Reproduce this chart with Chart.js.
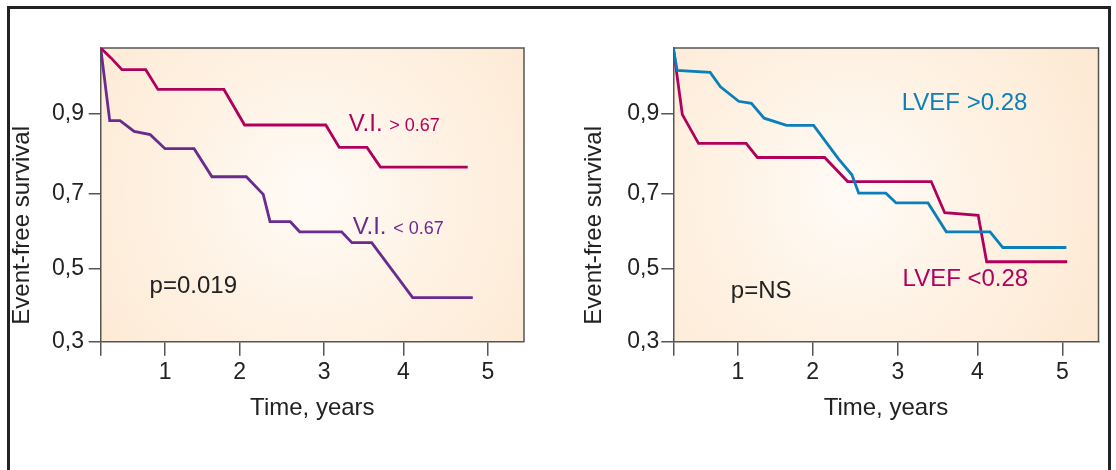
<!DOCTYPE html>
<html>
<head>
<meta charset="utf-8">
<script src="https://cdn.jsdelivr.net/npm/chart.js@4/dist/chart.umd.min.js"></script>
<style>
    html, body { margin: 0; padding: 0; background: #fff; overflow: hidden; }
    #marco { position: absolute; left: 6.5px; top: 5.5px; width: 1104.5px; height: 520px; border: 3px solid #222; box-sizing: border-box; }
    canvas { position: absolute; top: 0; }
    #graficaVI { left: 0; }
    #graficaLVEF { left: 558px; }
</style>
</head>
<body>
<div id="marco"></div>
<canvas id="graficaVI" width="558" height="470"></canvas>
<canvas id="graficaLVEF" width="558" height="470"></canvas>
<script>
// tick values
const xTicks = [0, 1, 2, 3, 4, 5];
const yTicks = [0.3, 0.5, 0.7, 0.9];

// left panel: V.I.
const viAltoTiempo = [0, 0.16, 0.33, 0.70, 0.89, 1.79, 2.06, 3.02, 3.19, 3.54, 3.71, 4.76];
const viAltoSuperv = [1.0, 0.985, 0.967, 0.967, 0.937, 0.937, 0.872, 0.872, 0.816, 0.816, 0.767, 0.767];
const viBajoTiempo = [0, 0.14, 0.30, 0.52, 0.77, 1.00, 1.39, 1.63, 2.08, 2.28, 2.36, 2.60, 2.71, 3.22, 3.35, 3.60, 4.11, 4.82];
const viBajoSuperv = [1.0, 0.883, 0.883, 0.856, 0.848, 0.813, 0.813, 0.743, 0.743, 0.699, 0.626, 0.626, 0.599, 0.599, 0.570, 0.570, 0.421, 0.421];

// right panel: LVEF
const lvefAltoTiempo = [0, 0.06, 0.57, 0.73, 1.01, 1.18, 1.35, 1.65, 2.01, 2.30, 2.46, 2.54, 2.86, 2.98, 3.38, 3.61, 4.15, 4.30, 5.05];
const lvefAltoSuperv = [1.0, 0.966, 0.963, 0.941, 0.919, 0.916, 0.889, 0.871, 0.871, 0.788, 0.748, 0.702, 0.702, 0.676, 0.676, 0.599, 0.599, 0.557, 0.557];
const lvefBajoTiempo = [0, 0.14, 0.39, 1.11, 1.26, 2.14, 2.41, 3.42, 3.59, 4.01, 4.11, 5.06];
const lvefBajoSuperv = [1.0, 0.898, 0.826, 0.826, 0.791, 0.791, 0.731, 0.731, 0.650, 0.643, 0.519, 0.519];

// the printed axes are not evenly spaced: value -> fraction of the axis length
const xNudos = [0, 1, 2, 3, 4, 5, 5.45];
const xFracciones = [0, 0.152, 0.328, 0.528, 0.715, 0.915, 1];
const yNudos = [0.3, 0.5, 0.7, 0.9, 1.0];
const yFracciones = [0, 0.248, 0.503, 0.776, 1];

const FUENTE = "'Liberation Sans', Arial, sans-serif";
const CARMIN = '#b0005c';
const MORADO = '#6a2a8e';
const AZUL = '#0a7fba';
const GRIS = '#555';
const TEXTO = '#222';

Chart.defaults.font.family = FUENTE;

function interpolar(v, desde, hasta) {
    let i = 1;
    while (i < desde.length - 1 && v > desde[i]) i++;
    return hasta[i - 1] + (v - desde[i - 1]) * (hasta[i] - hasta[i - 1]) / (desde[i] - desde[i - 1]);
}

class EscalaDeformada extends Chart.LinearScale {
    static id = 'deformada';
    static defaults = {};

    nudos() {
        return this.axis === 'x' ? [xNudos, xFracciones] : [yNudos, yFracciones];
    }

    getPixelForValue(v) {
        if (v === null || v === undefined || isNaN(v)) return NaN;
        const [n, f] = this.nudos();
        return this.getPixelForDecimal(interpolar(v, n, f));
    }

    getValueForPixel(p) {
        const [n, f] = this.nudos();
        return interpolar(this.getDecimalForPixel(p), f, n);
    }
}
Chart.register(EscalaDeformada);

function puntos(tiempos, valores) {
    return tiempos.map((t, i) => ({ x: t, y: valores[i] }));
}

function serie(tiempos, valores, color) {
    return {
        data: puntos(tiempos, valores),
        borderColor: color,
        borderWidth: 2.8,
        pointRadius: 0,
        tension: 0,
        fill: false
    };
}

// background, box and text overlays of one panel
function notas(cfg) {
    return {
        id: 'notas',
        beforeDraw(chart) {
            const { ctx, chartArea: a } = chart;
            const cx = a.left + a.width * cfg.brillo;
            const cy = a.top + a.height * 0.5;
            const g = ctx.createRadialGradient(cx, cy, 0, cx, cy, a.width * 0.7);
            g.addColorStop(0, '#fffbf6');
            g.addColorStop(0.55, '#fef0e0');
            g.addColorStop(1, '#fde8d1');
            ctx.save();
            ctx.fillStyle = g;
            ctx.fillRect(a.left, a.top, a.width, a.height);
            ctx.restore();
        },
        beforeDatasetsDraw(chart) {
            const { ctx, chartArea: a } = chart;
            ctx.save();
            ctx.strokeStyle = GRIS;
            ctx.lineWidth = 1.5;
            ctx.beginPath();
            ctx.moveTo(a.left, a.top);
            ctx.lineTo(a.right, a.top);
            ctx.lineTo(a.right, a.bottom);
            ctx.stroke();
            ctx.restore();
        },
        afterDatasetsDraw(chart) {
            const { ctx, chartArea: a, scales } = chart;
            ctx.save();
            ctx.textBaseline = 'alphabetic';
            ctx.textAlign = 'left';
            cfg.etiquetas.forEach(e => {
                let x = scales.x.getPixelForValue(e.x);
                const y = scales.y.getPixelForValue(e.y);
                ctx.fillStyle = e.color;
                e.partes.forEach(([texto, tam]) => {
                    ctx.font = tam + 'px ' + FUENTE;
                    ctx.fillText(texto, x, y);
                    x += ctx.measureText(texto).width;
                });
            });

            ctx.translate(cfg.tituloY, a.bottom - 17);
            ctx.rotate(-Math.PI / 2);
            ctx.font = '24px ' + FUENTE;
            ctx.fillStyle = TEXTO;
            ctx.textBaseline = 'middle';
            ctx.fillText('Event-free survival', 0, 0);
            ctx.restore();
        }
    };
}

function crearPanel(idCanvas, series, cfg) {
    new Chart(document.getElementById(idCanvas), {
        type: 'line',
        data: { datasets: series },
        options: {
            responsive: false,
            animation: false,
            devicePixelRatio: 1,
            layout: { padding: { top: 48, right: cfg.derecha, bottom: 0, left: 0 } },
            plugins: { legend: { display: false }, tooltip: { enabled: false } },
            scales: {
                x: {
                    type: 'deformada',
                    min: 0,
                    max: 5.45,
                    afterBuildTicks: s => { s.ticks = xTicks.map(v => ({ value: v })); },
                    afterFit: s => { s.height = 128.3; },
                    ticks: {
                        callback: v => (v === 0 ? '' : String(v)),
                        color: TEXTO,
                        font: { size: 23 },
                        padding: 3.5,
                        maxRotation: 0,
                        autoSkip: false
                    },
                    grid: { drawOnChartArea: false, drawTicks: true, tickLength: 14, color: GRIS, lineWidth: 1.5 },
                    border: { display: true, color: GRIS, width: 1.5 },
                    title: { display: true, text: 'Time, years', color: TEXTO, font: { size: 24 }, padding: { top: 0, bottom: 47.6 } }
                },
                y: {
                    type: 'deformada',
                    min: 0.3,
                    max: 1.0,
                    afterBuildTicks: s => { s.ticks = yTicks.map(v => ({ value: v })); },
                    afterFit: s => { s.width = cfg.anchoY; },
                    ticks: {
                        callback: v => v.toFixed(1).replace('.', ','),
                        color: TEXTO,
                        font: { size: 23 },
                        padding: cfg.rellenoY
                    },
                    grid: { drawOnChartArea: false, drawTicks: true, tickLength: 12, color: GRIS, lineWidth: 1.5 },
                    border: { display: true, color: GRIS, width: 1.5 }
                }
            }
        },
        plugins: [notas(cfg)]
    });
}

crearPanel('graficaVI', [
    serie(viAltoTiempo, viAltoSuperv, CARMIN),
    serie(viBajoTiempo, viBajoSuperv, MORADO)
], {
    derecha: 34,
    anchoY: 100.7,
    rellenoY: 4.7,
    tituloY: 22.5,
    brillo: 0.5,
    etiquetas: [
        { x: 3.31, y: 0.8575, color: CARMIN, partes: [['V.I. ', 24], ['> 0.67', 18]] },
        { x: 3.36, y: 0.593, color: MORADO, partes: [['V.I. ', 24], ['< 0.67', 18]] },
        { x: 0.76, y: 0.434, color: TEXTO, partes: [['p=0.019', 24]] }
    ]
});

crearPanel('graficaLVEF', [
    serie(lvefAltoTiempo, lvefAltoSuperv, AZUL),
    serie(lvefBajoTiempo, lvefBajoSuperv, CARMIN)
], {
    derecha: 17.5,
    anchoY: 115.3,
    rellenoY: 2,
    tituloY: 36.6,
    brillo: 0.42,
    etiquetas: [
        { x: 3.05, y: 0.906, color: AZUL, partes: [['LVEF >0.28', 24]] },
        { x: 3.06, y: 0.454, color: CARMIN, partes: [['LVEF <0.28', 24]] },
        { x: 0.89, y: 0.419, color: TEXTO, partes: [['p=NS', 24]] }
    ]
});
</script>
</body>
</html>
